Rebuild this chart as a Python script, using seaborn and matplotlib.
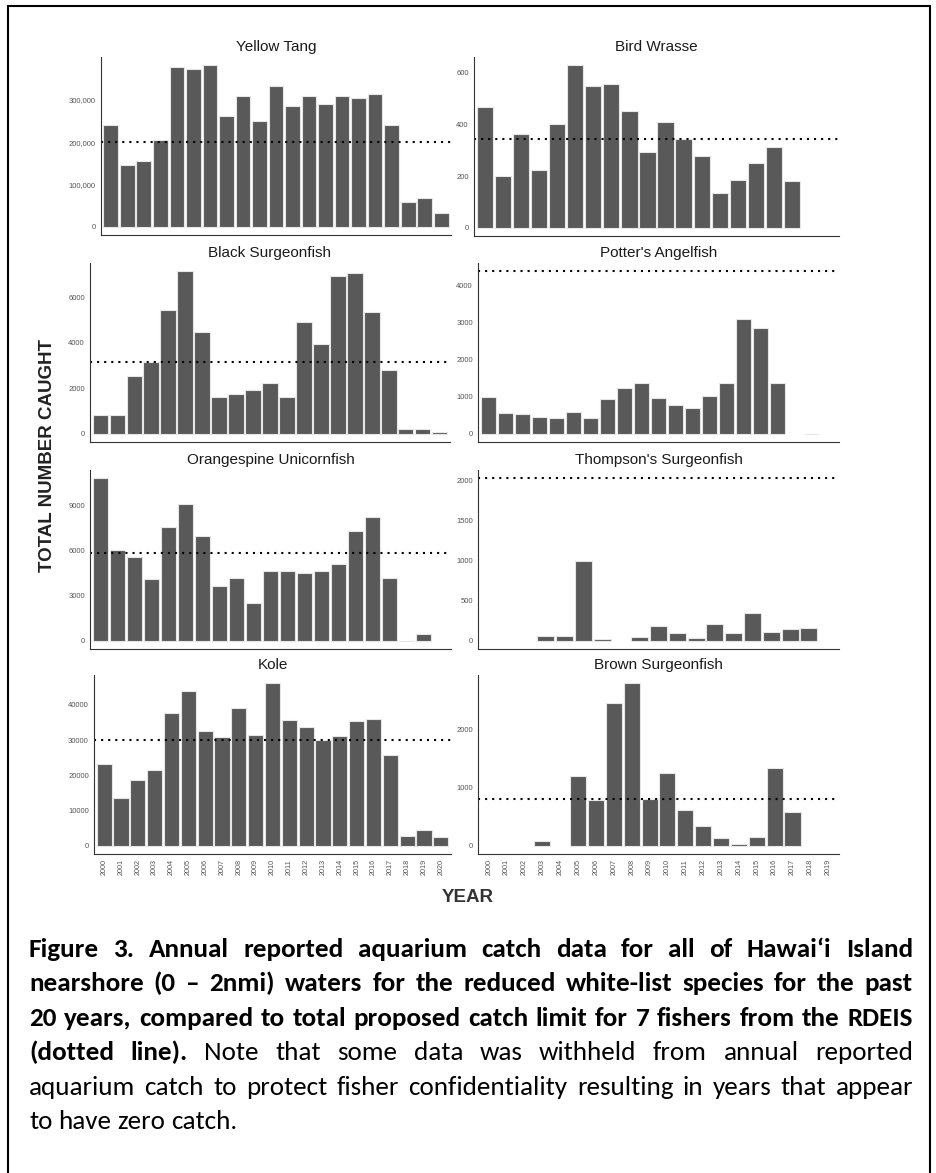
import numpy as np
import pandas as pd
import matplotlib
matplotlib.use('Agg')
import matplotlib.pyplot as plt
import matplotlib.font_manager as fm
from matplotlib.lines import Line2D
from matplotlib.ticker import FuncFormatter
import seaborn as sns

# --- data ---
years21 = [str(y) for y in range(2000, 2021)]
years20 = [str(y) for y in range(2000, 2020)]
years19 = [str(y) for y in range(2000, 2019)]

yellow_tang = [241600, 147000, 156000, 205000, 377000, 372000, 382000, 261000, 308000, 250000,
               332000, 285000, 309000, 290000, 309000, 305000, 313000, 241000, 58000, 68000, 33000]
bird_wrasse = [467, 201, 364, 225, 404, 630, 548, 558, 451, 295, 409, 345, 280, 136, 185, 251,
               313, 183, None, None]
black_surgeonfish = [820, 820, 2550, 3150, 5450, 7150, 4470, 1626, 1773, 1920, 2256, 1641, 4908,
                     3941, 6916, 7062, 5363, 2813, 220, 220, 100]
potters_angelfish = [1004, 556, 529, 457, 422, 583, 422, 951, 1229, 1381, 960, 789, 700, 1022,
                     1381, 3103, 2852, 1381, None, 0, None]
orangespine = [10843, 6031, 5566, 4102, 7583, 9113, 6985, 3659, 4213, 2506, 4634, 4634, 4545,
               4656, 5122, 7339, 8248, 4191, 0, 466, None]
thompsons = [None, None, None, 62, 62, 992, 29, None, 50, 191, 100, 37, 207, 100, 344, 116, 154,
             158, None]
kole = [23220, 13650, 18580, 21520, 37730, 43980, 32610, 30900, 39050, 31370, 46160, 35830, 33840,
        29950, 31280, 35450, 35920, 25780, 2750, 4360, 2460]
brown_surgeonfish = [None, None, None, 80, None, 1201, 799, 2454, 2805, 805, 1253, 615, 351, 138,
                     34, 155, 1339, 592, None, None]

# proposed catch limits (dotted lines)
limits = {'Yellow Tang': 200000, 'Bird Wrasse': 345, 'Black Surgeonfish': 3140,
          "Potter's Angelfish": 4380, 'Orangespine Unicornfish': 5880,
          "Thompson's Surgeonfish": 2030, 'Kole': 30000, 'Brown Surgeonfish': 805}

yticks = {'Yellow Tang': [0, 100000, 200000, 300000], 'Bird Wrasse': [0, 200, 400, 600],
          'Black Surgeonfish': [0, 2000, 4000, 6000], "Potter's Angelfish": [0, 1000, 2000, 3000, 4000],
          'Orangespine Unicornfish': [0, 3000, 6000, 9000],
          "Thompson's Surgeonfish": [0, 500, 1000, 1500, 2000],
          'Kole': [0, 10000, 20000, 30000, 40000], 'Brown Surgeonfish': [0, 1000, 2000]}

species = [
    ('Yellow Tang', years21, yellow_tang),
    ('Bird Wrasse', years20, bird_wrasse),
    ('Black Surgeonfish', years21, black_surgeonfish),
    ("Potter's Angelfish", years21, potters_angelfish),
    ('Orangespine Unicornfish', years21, orangespine),
    ("Thompson's Surgeonfish", years19, thompsons),
    ('Kole', years21, kole),
    ('Brown Surgeonfish', years20, brown_surgeonfish),
]

# panel boxes in pixels: left, right, top, bottom
boxes = [(101, 451, 57, 235), (474, 839, 57, 236),
         (90, 450, 263, 442), (478, 839, 263, 442),
         (90, 451, 470, 649), (478, 839, 470, 649),
         (94, 451, 675, 854), (478, 839, 675, 854)]

sns.set_style('white')
plt.rcParams['font.family'] = ['Liberation Sans', 'DejaVu Sans']

W, H = 936, 1173
fig = plt.figure(figsize=(W / 100, H / 100), dpi=100)

for i, ((name, yrs, vals), (l, r, t, b)) in enumerate(zip(species, boxes)):
    ax = fig.add_axes([l / W, 1 - b / H, (r - l) / W, (b - t) / H])
    df = pd.DataFrame({'year': yrs, 'n': vals}).dropna()
    sns.barplot(data=df, x='year', y='n', order=yrs, color='#595959', saturation=1,
                edgecolor='#e6e6e6', linewidth=0.8, width=0.9, errorbar=None, ax=ax)
    ax.axhline(limits[name], color='black', linestyle=(0, (1, 2.4)), linewidth=1.5)
    top = max(df['n'].max(), limits[name])
    ax.set_ylim(-0.05 * top, 1.05 * top)
    ax.set_xlim(-0.6, len(yrs) - 0.4)
    ax.set_yticks(yticks[name])
    if name == 'Yellow Tang':
        ax.yaxis.set_major_formatter(FuncFormatter(lambda v, p: f'{int(v):,}'))
    else:
        ax.yaxis.set_major_formatter(FuncFormatter(lambda v, p: f'{int(v)}'))
    ax.set_xlabel('')
    ax.set_ylabel('')
    ax.set_title(name, fontsize=11, color='#1a1a1a', pad=4)
    for s in ['top', 'right']:
        ax.spines[s].set_visible(False)
    for s in ['left', 'bottom']:
        ax.spines[s].set_color('#333333')
        ax.spines[s].set_linewidth(0.8)
    ax.tick_params(axis='both', length=2.2, width=0.6, color='#333333',
                   labelcolor='#555555', pad=1.5)
    ax.tick_params(axis='y', labelsize=5.5)
    if i >= 6:
        ax.tick_params(axis='x', labelsize=5.2, labelrotation=90)
    else:
        ax.tick_params(axis='x', labelbottom=False)

fig.text(48 / W, 1 - 456 / H, 'TOTAL NUMBER CAUGHT', rotation=90, ha='center', va='center',
         fontsize=13.5, fontweight='bold', color='#222222')
fig.text(468 / W, 1 - 898 / H, 'YEAR', ha='center', va='center',
         fontsize=13.5, fontweight='bold', color='#333333')

# --- caption, justified word by word ---
names = {f.name for f in fm.fontManager.ttflist}
cap_font = next(f for f in ['Carlito', 'Liberation Sans Narrow', 'Lato', 'DejaVu Sans'] if f in names)

B, N = 'bold', 'normal'
lines = [
    [(w, B) for w in 'Figure 3. Annual reported aquarium catch data for all of Hawai‘i Island'.split()],
    [(w, B) for w in 'nearshore (0 – 2nmi) waters for the reduced white-list species for the past'.split()],
    [(w, B) for w in '20 years, compared to total proposed catch limit for 7 fishers from the RDEIS'.split()],
    [(w, B) for w in '(dotted line).'.split()] +
    [(w, N) for w in 'Note that some data was withheld from annual reported'.split()],
    [(w, N) for w in 'aquarium catch to protect fisher confidentiality resulting in years that appear'.split()],
    [(w, N) for w in 'to have zero catch.'.split()],
]

fig.canvas.draw()
rend = fig.canvas.get_renderer()


def width_of(s, weight, size):
    t = fig.text(0, 0, s, fontsize=size, fontweight=weight, family=cap_font)
    w = t.get_window_extent(rend).width
    t.remove()
    return w


x0, x1 = 29, 913
base = 18
natural = []
for ln in lines[:-1]:
    ws = sum(width_of(w, wt, base) for w, wt in ln)
    sp = width_of('a a', N, base) - width_of('aa', N, base)
    natural.append(ws + sp * (len(ln) - 1))
size = min(base * (x1 - x0) * 0.995 / max(natural), 19.5)
space = width_of('a a', N, size) - width_of('aa', N, size)

base_y = 957
for k, ln in enumerate(lines):
    widths = [width_of(w, wt, size) for w, wt in ln]
    if k < len(lines) - 1:
        gap = (x1 - x0 - sum(widths)) / (len(ln) - 1)
    else:
        gap = space
    x = x0
    y = base_y + k * 34.4
    for (w, wt), wd in zip(ln, widths):
        fig.text(x / W, 1 - y / H, w, fontsize=size, fontweight=wt, family=cap_font,
                 ha='left', va='baseline', color='black')
        x += wd + gap

# outer frame (open at the bottom)
fl, fr, ft = 8 / W, 930 / W, 1 - 6 / H
for xs, ys in [([fl, fl], [0, ft]), ([fl, fr], [ft, ft]), ([fr, fr], [ft, 0])]:
    fig.add_artist(Line2D(xs, ys, color='black', linewidth=1.5, transform=fig.transFigure))

fig.savefig('out.png', dpi=100)
